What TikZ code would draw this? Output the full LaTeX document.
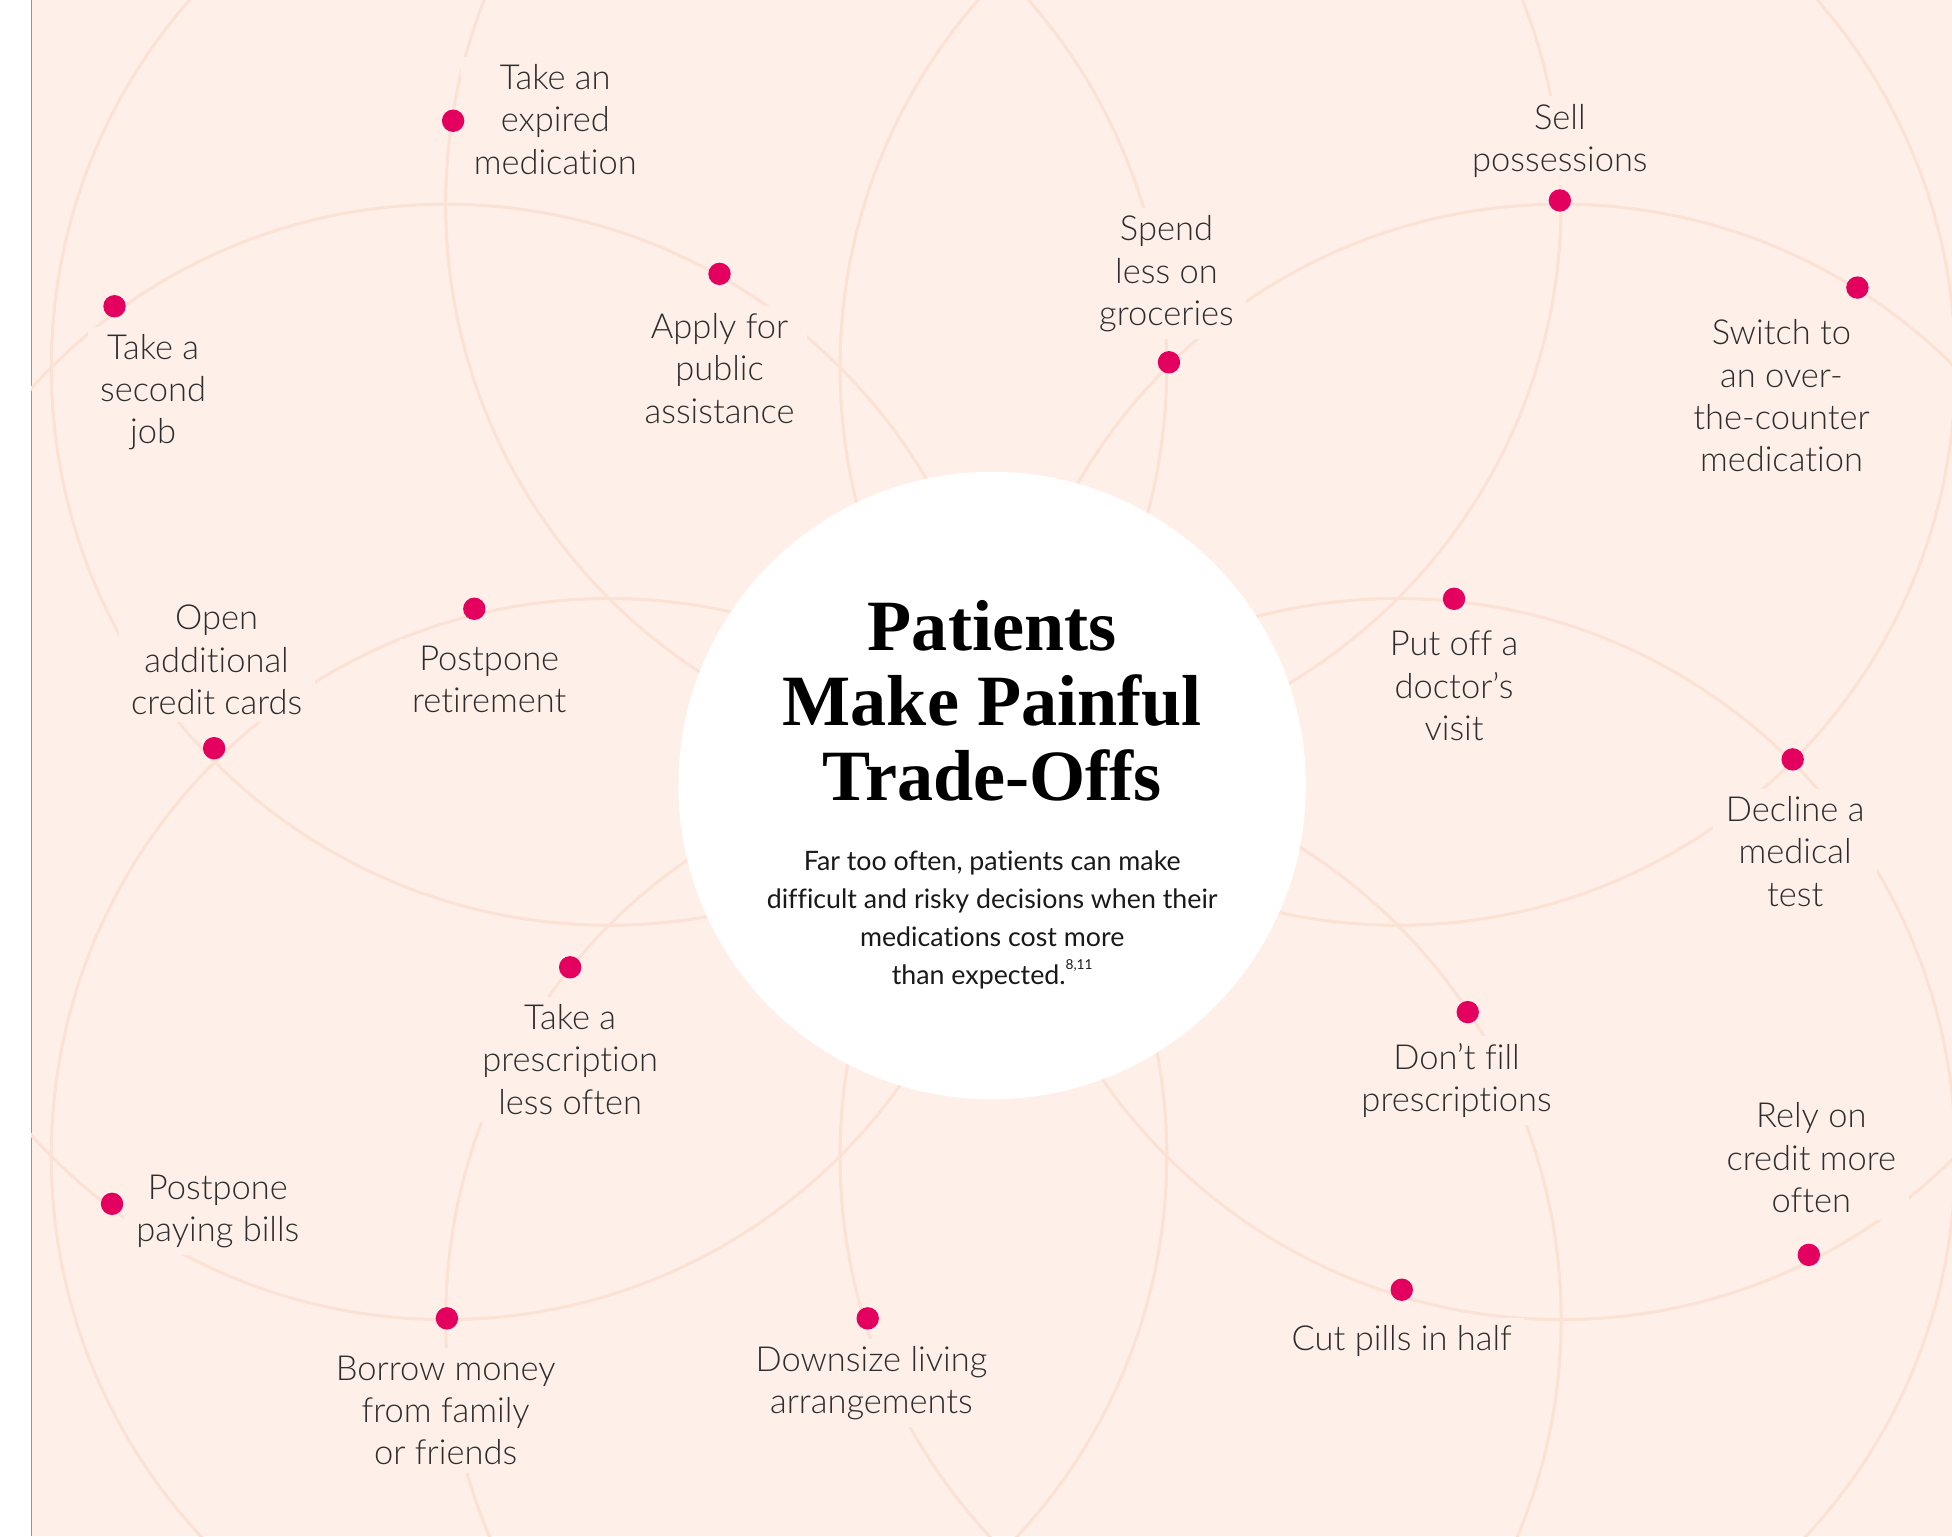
\documentclass[tikz,border=0pt]{standalone}
\usepackage{fontspec}
\setmainfont{Lato}[Ligatures=CommonOff]
\newfontfamily\lblfont{Lato Light}[Ligatures=CommonOff]
\newfontfamily\titlefont{Liberation Serif}
\definecolor{bgc}{RGB}{254,240,233}
\definecolor{arcc}{RGB}{252,226,212}
\definecolor{dotc}{RGB}{228,0,95}
\definecolor{txtc}{RGB}{45,45,45}
\tikzset{
  arcline/.style={draw=arcc, line width=2.5pt},
  lbl/.style={fill=bgc, text=txtc, align=center, inner xsep=10pt, inner ysep=6pt,
    font=\lblfont\fontsize{27.7}{34}\selectfont},
  dotm/.style={circle, fill=dotc, minimum size=18pt, inner sep=0pt},
}
\begin{document}
\begin{tikzpicture}[x=1pt,y=-1pt]
\useasboundingbox (0,0) rectangle (1568,1234);
\fill[white] (0,0) rectangle (1568,1234);
\fill[bgc] (25,0) rectangle (1568,1234);
\draw[line width=1pt, color={rgb,255:red,150;green,150;blue,150}] (25,0) -- (25,1234);
\begin{scope}
  \clip (25,0) rectangle (1568,1234);
  \foreach \a in {0,45,...,315}
    \draw[arcline] (806,612) ++(\a:448) circle[radius=448pt];
\end{scope}
\node[circle, fill=white, minimum size=504pt, inner sep=0pt] (disk) at (797,631) {};

% labels
\node[lbl] (l1) at (446,96) {Take an\\expired\\medication};
\node[lbl] (l2) at (123,315) {Take a\\second\\job};
\node[lbl] (l3) at (578,296) {Apply for\\public\\assistance};
\node[lbl] (l4) at (937,220) {Spend\\less on\\groceries};
\node[lbl] (l5) at (1253,113) {Sell\\possessions};
\node[lbl] (l6) at (1431,318) {Switch to\\an over-\\the-counter\\medication};
\node[lbl] (l7) at (174,530) {Open\\additional\\credit cards};
\node[lbl] (l8) at (393,546) {Postpone\\retirement};
\node[lbl] (l9) at (1168,551) {Put off a\\doctor’s\\visit};
\node[lbl] (l10) at (1442,684) {Decline a\\medical\\test};
\node[lbl] (l11) at (458,851) {Take a\\prescription\\less often};
\node[lbl] (l12) at (1170,868) {Don’t fill\\prescriptions};
\node[lbl] (l13) at (1455,930) {Rely on\\credit more\\often};
\node[lbl] (l14) at (175,973) {Postpone\\paying bills};
\node[lbl] (l15) at (358,1133) {Borrow money\\from family\\or friends};
\node[lbl] (l16) at (700,1111) {Downsize living\\arrangements};
\node[lbl] (l17) at (1126,1077) {Cut pills in half};

% dots
\node[dotm] (d1) at (364,97) {};
\node[dotm] (d2) at (92,246) {};
\node[dotm] (d3) at (578,220) {};
\node[dotm] (d4) at (939,291) {};
\node[dotm] (d5) at (1253,161) {};
\node[dotm] (d6) at (1492,231) {};
\node[dotm] (d7) at (172,601) {};
\node[dotm] (d8) at (381,489) {};
\node[dotm] (d9) at (1168,481) {};
\node[dotm] (d10) at (1440,610) {};
\node[dotm] (d11) at (458,777) {};
\node[dotm] (d12) at (1179,813) {};
\node[dotm] (d13) at (1453,1008) {};
\node[dotm] (d14) at (90,967) {};
\node[dotm] (d15) at (359,1059) {};
\node[dotm] (d16) at (697,1059) {};
\node[dotm] (d17) at (1126,1036) {};

% title and body
\node[align=center, text=black, font=\titlefont\bfseries\fontsize{58}{60}\selectfont] (title) at (797,563) {Patients\\Make Painful\\Trade-Offs};
\node[align=center, text={rgb,255:red,25;green,25;blue,25}, font=\fontsize{21.5}{30.3}\selectfont] (body) at (797,739)
  {Far too often, patients can make\\difficult and risky decisions when their\\medications cost more\\than expected.\raisebox{0.55em}{\fontsize{11}{11}\selectfont 8,11}};
\end{tikzpicture}
\end{document}
